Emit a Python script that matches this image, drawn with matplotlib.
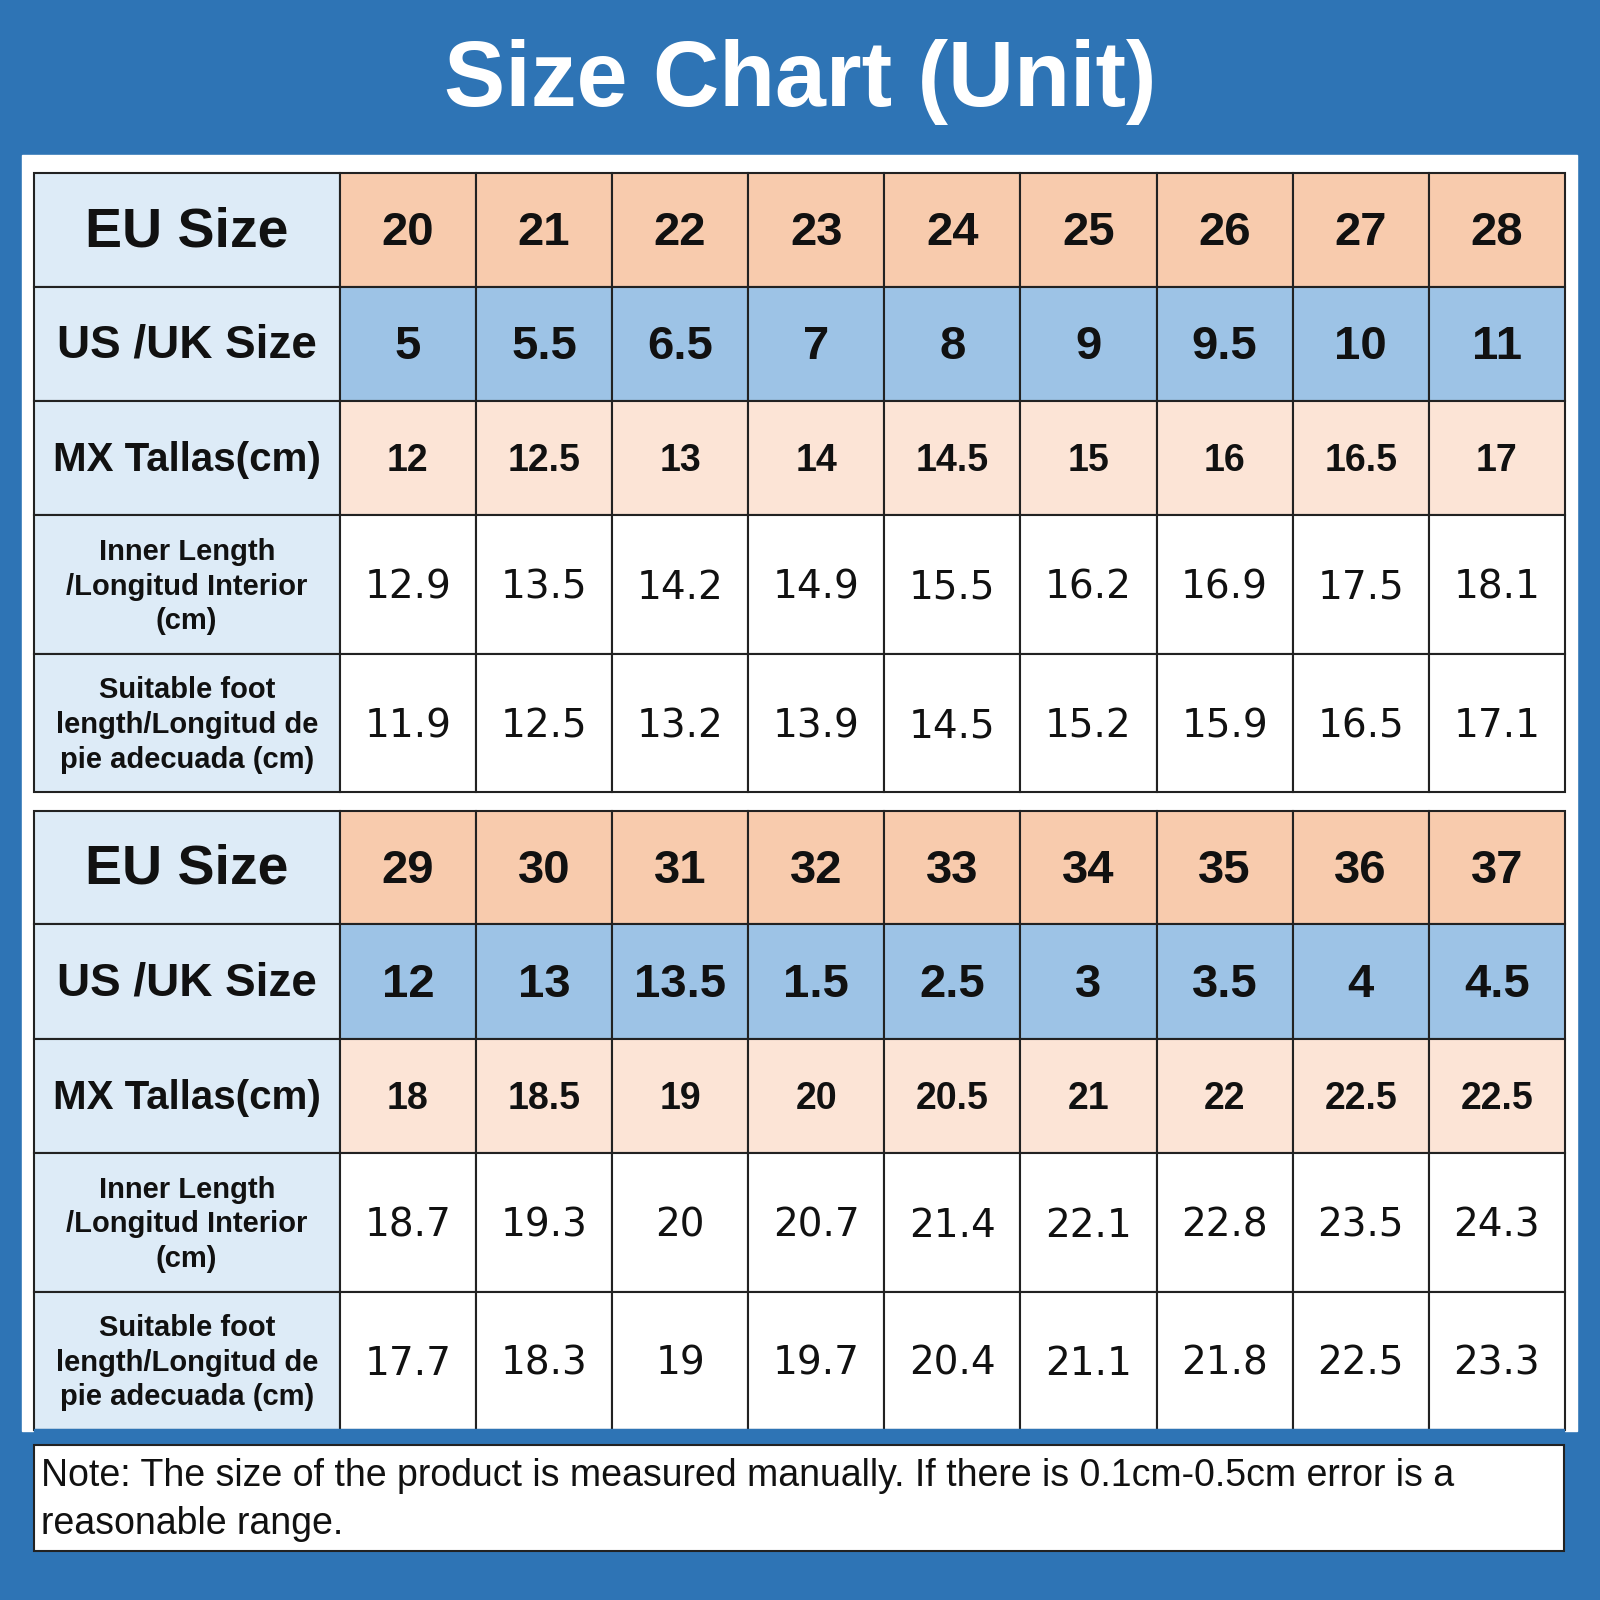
import matplotlib.pyplot as plt
from matplotlib.patches import Rectangle

eu_1 = ["20", "21", "22", "23", "24", "25", "26", "27", "28"]
us_1 = ["5", "5.5", "6.5", "7", "8", "9", "9.5", "10", "11"]
mx_1 = ["12", "12.5", "13", "14", "14.5", "15", "16", "16.5", "17"]
inner_1 = ["12.9", "13.5", "14.2", "14.9", "15.5", "16.2", "16.9", "17.5", "18.1"]
foot_1 = ["11.9", "12.5", "13.2", "13.9", "14.5", "15.2", "15.9", "16.5", "17.1"]

eu_2 = ["29", "30", "31", "32", "33", "34", "35", "36", "37"]
us_2 = ["12", "13", "13.5", "1.5", "2.5", "3", "3.5", "4", "4.5"]
mx_2 = ["18", "18.5", "19", "20", "20.5", "21", "22", "22.5", "22.5"]
inner_2 = ["18.7", "19.3", "20", "20.7", "21.4", "22.1", "22.8", "23.5", "24.3"]
foot_2 = ["17.7", "18.3", "19", "19.7", "20.4", "21.1", "21.8", "22.5", "23.3"]

row_labels = ["EU Size", "US /UK Size", "MX Tallas(cm)",
              "Inner Length\n/Longitud Interior\n(cm)",
              "Suitable foot\nlength/Longitud de\npie adecuada (cm)"]
title = "Size Chart (Unit)"
note = "Note: The size of the product is measured manually. If there is 0.1cm-0.5cm error is a\nreasonable range."

BLUE = "#2E74B5"
row_colors = ["#F8CBAD", "#9DC3E6", "#FCE4D6", "white", "white"]
label_bg = "#DDEBF7"

fig = plt.figure(figsize=(16, 16), dpi=100)
fig.patch.set_facecolor(BLUE)
ax = fig.add_axes([0, 0, 1, 1])
ax.set_xlim(0, 1568)
ax.set_ylim(1568, 0)
ax.axis("off")

ax.text(784, 80, title, ha="center", va="center", color="white",
        fontsize=66, fontweight="bold", family="Liberation Sans")
ax.add_patch(Rectangle((22, 152), 1523, 1250, color="white"))

x0, lw, cw = 33, 300, 133.4
row_h = [111, 112, 112, 136, 135]
label_fs = [40, 33, 29, 21, 21]
val_fs = [34, 34, 27, 28, 28]
val_bold = [True, True, True, False, False]


def draw_table(top, rows):
    y = top
    for r, vals in enumerate(rows):
        h = row_h[r]
        ax.add_patch(Rectangle((x0, y), lw, h, facecolor=label_bg, edgecolor="#222", lw=1.5))
        ax.text(x0 + lw / 2, y + h / 2 + 2, row_labels[r], ha="center", va="center",
                fontsize=label_fs[r], fontweight="bold", family="Liberation Sans",
                linespacing=1.3, color="#111")
        for c, v in enumerate(vals):
            cx = x0 + lw + c * cw
            ax.add_patch(Rectangle((cx, y), cw, h, facecolor=row_colors[r], edgecolor="#222", lw=1.5))
            ax.text(cx + cw / 2, y + h / 2 + 3, v, ha="center", va="center",
                    fontsize=val_fs[r], fontweight="bold" if val_bold[r] else "normal",
                    family="Liberation Sans" if val_bold[r] else "DejaVu Sans", color="#111")
        y += h


draw_table(170, [eu_1, us_1, mx_1, inner_1, foot_1])
draw_table(795, [eu_2, us_2, mx_2, inner_2, foot_2])

ax.add_patch(Rectangle((33, 1400), 1500, 16, color=BLUE))
ax.add_patch(Rectangle((33, 1416), 1500, 104, facecolor="white", edgecolor="#222", lw=1.5))
ax.text(40, 1470, note, ha="left", va="center", fontsize=27, family="Liberation Sans",
        linespacing=1.4, color="#111")

fig.savefig("out.png", dpi=100, facecolor=BLUE)
